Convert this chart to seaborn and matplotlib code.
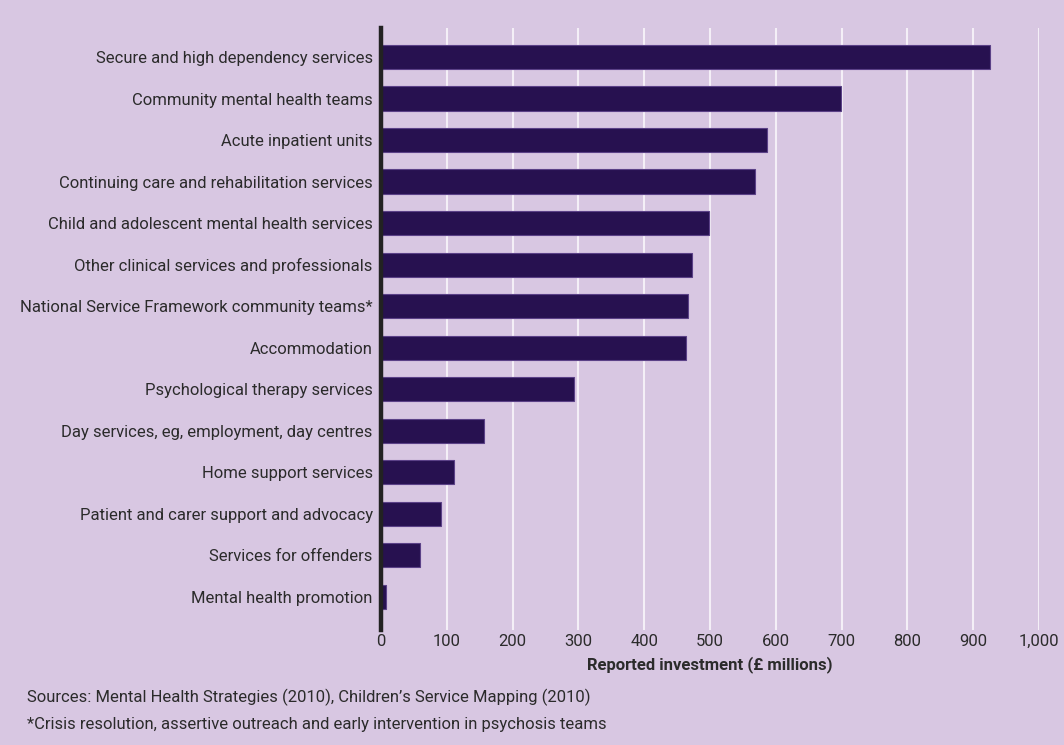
import pandas as pd
import matplotlib.pyplot as plt
import seaborn as sns
from matplotlib.ticker import FuncFormatter

# Data
services = [
    'Secure and high dependency services',
    'Community mental health teams',
    'Acute inpatient units',
    'Continuing care and rehabilitation services',
    'Child and adolescent mental health services',
    'Other clinical services and professionals',
    'National Service Framework community teams*',
    'Accommodation',
    'Psychological therapy services',
    'Day services, eg, employment, day centres',
    'Home support services',
    'Patient and carer support and advocacy',
    'Services for offenders',
    'Mental health promotion',
]
investment = [925, 699, 586, 568, 498, 473, 467, 464, 294, 157, 111, 91, 59, 7]
x_ticks = [0, 100, 200, 300, 400, 500, 600, 700, 800, 900, 1000]

df = pd.DataFrame({'service': services, 'investment': investment})

bg = '#d8c7e2'
bar_color = '#24075a'
text_color = '#2b2b2b'

sns.set_style('white')
plt.rcParams['font.family'] = ['Liberation Sans Narrow', 'Roboto', 'DejaVu Sans']
plt.rcParams['text.color'] = text_color

fig = plt.figure(figsize=(10.64, 7.45), dpi=100, facecolor=bg)
ax = fig.add_axes([381 / 1064, 115 / 745, (1039 - 381) / 1064, (630 - 28) / 745])
ax.set_facecolor(bg)

sns.barplot(data=df, y='service', x='investment', orient='h', color=bar_color,
            edgecolor='#5b4187', linewidth=0.8, width=0.585, ax=ax, zorder=3)

ax.set_xlim(0, 1000)
ax.set_ylim(13.8, -0.7)
ax.set_xticks(x_ticks)
ax.xaxis.set_major_formatter(FuncFormatter(lambda v, p: f'{int(v):,}'))
ax.grid(axis='x', color='#f4eff7', linewidth=1.5, zorder=0)
ax.grid(axis='y', visible=False)
ax.set_axisbelow(True)

for side in ['top', 'right', 'bottom']:
    ax.spines[side].set_visible(False)
ax.spines['left'].set_color('#222222')
ax.spines['left'].set_linewidth(3.2)
ax.spines['left'].set_zorder(5)

ax.tick_params(axis='both', length=0, labelsize=12, colors=text_color)
ax.tick_params(axis='y', pad=6)
ax.tick_params(axis='x', pad=3)
ax.set_ylabel('')
ax.set_xlabel('Reported investment (£ millions)', fontsize=12, fontweight='bold',
              color=text_color, labelpad=5)

fig.text(27 / 1064, 1 - 697 / 745, 'Sources: Mental Health Strategies (2010), Children\u2019s Service Mapping (2010)',
         fontsize=12, va='center', ha='left', color=text_color)
fig.text(27 / 1064, 1 - 725 / 745, '*Crisis resolution, assertive outreach and early intervention in psychosis teams',
         fontsize=12, va='center', ha='left', color=text_color)

fig.savefig('out.png', dpi=100, facecolor=bg)
